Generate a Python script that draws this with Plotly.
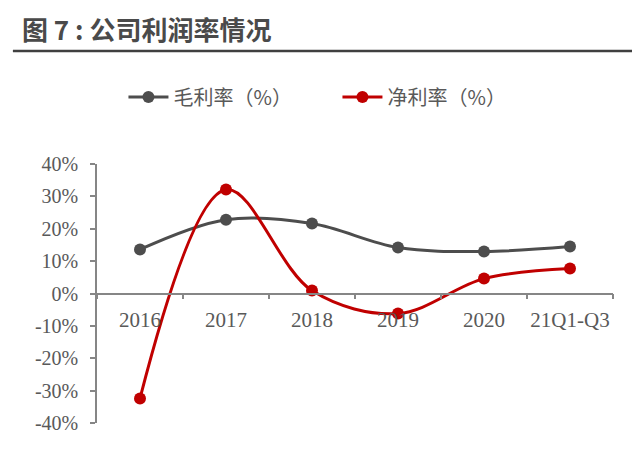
import plotly.graph_objects as go

categories = ['2016', '2017', '2018', '2019', '2020', '21Q1-Q3']
gross_margin = [13.6, 22.8, 21.6, 14.2, 13.0, 14.5]
net_margin = [-32.4, 32.1, 0.9, -6.2, 4.6, 7.7]
y_ticks = [-40, -30, -20, -10, 0, 10, 20, 30, 40]

GRAY = '#4d4d4d'
RED = '#c00000'
TEXT = '#595959'
AXIS = '#868686'
serif = 'Liberation Serif, Times New Roman, serif'
cjk = 'Noto Sans CJK SC, sans-serif'

fig = go.Figure()

fig.add_trace(go.Scatter(
    x=categories, y=gross_margin, name='毛利率（%）',
    mode='lines+markers', line=dict(color=GRAY, width=3, shape='spline', smoothing=1),
    marker=dict(color=GRAY, size=12),
))
fig.add_trace(go.Scatter(
    x=categories, y=net_margin, name='净利率（%）',
    mode='lines+markers', line=dict(color=RED, width=3, shape='spline', smoothing=1),
    marker=dict(color=RED, size=12),
))

# the page body has an 8px margin, so the figure is 8px smaller each way
fig.update_layout(
    width=632, height=466,
    margin=dict(l=89, r=27, t=156, b=51),
    plot_bgcolor='white', paper_bgcolor='white',
    showlegend=True,
    title=dict(
        text='<b>图 7 : 公司利润率情况</b>',
        x=0.022, xanchor='left', y=0.951, yanchor='middle',
        font=dict(family=cjk, size=26, color='#4a4a4a'),
    ),
    legend=dict(
        orientation='h', x=0.466, xanchor='center', y=1.259, yanchor='middle',
        font=dict(family=cjk, size=20, color=TEXT),
        itemwidth=40, traceorder='normal',
        entrywidth=159, entrywidthmode='pixels',
    ),
    xaxis=dict(
        type='category', anchor='free', position=0.5,
        range=[-0.5, 5.5],
        showline=True, linecolor=AXIS, linewidth=1.5,
        ticks='outside', ticklen=5, tickcolor=AXIS, tickwidth=1.5,
        tickson='boundaries', showgrid=False,
        tickangle=0, ticklabelstandoff=8,
        tickfont=dict(family=serif, size=21, color=TEXT),
    ),
    yaxis=dict(
        range=[-40, 40], tickvals=y_ticks,
        ticktext=[f'{v}%' for v in y_ticks],
        showline=True, linecolor=AXIS, linewidth=1.5,
        ticks='outside', ticklen=5, tickcolor=AXIS, tickwidth=1.5,
        showgrid=False, zeroline=False,
        ticklabelstandoff=8,
        tickfont=dict(family=serif, size=20, color=TEXT),
    ),
)

# rule under the title
fig.add_shape(type='line', xref='paper', yref='paper',
              x0=-0.163, x1=1.045, y0=1.436, y1=1.436,
              line=dict(color='#404040', width=2.5))

fig.write_html('out.html')
